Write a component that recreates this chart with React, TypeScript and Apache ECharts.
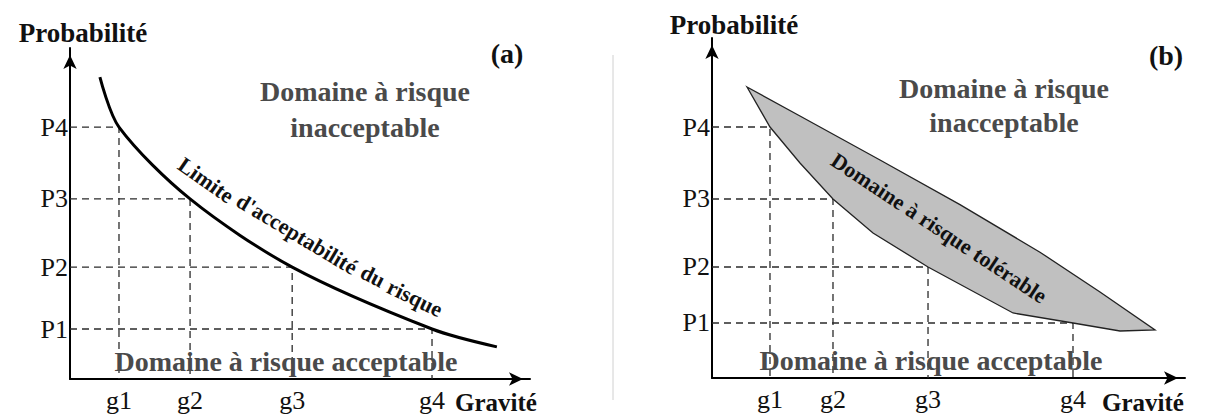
import React, { useEffect, useRef } from 'react';
import * as echarts from 'echarts';

// Tick labels
const gLabels = ['g1', 'g2', 'g3', 'g4'];
const pLabels = ['P1', 'P2', 'P3', 'P4'];

// Panel (a): gravity / probability levels (axis units 0..100)
const aGravity = [10.65, 26.1, 48.3, 78.7];
const aProb = [15.1, 33.8, 54.4, 76.1];
// acceptability limit curve
const aCurveX = [6.5, 10.65, 26.1, 48.3, 78.7, 92.8];
const aCurveY = [91.2, 76.1, 54.4, 33.8, 15.1, 9.7];

// Panel (b)
const bGravity = [12.26, 25.58, 45.67, 76.32];
const bProb = [16.18, 32.65, 52.65, 73.82];
// tolerable-risk band (polygon, upper edge then lower edge back)
const bBandX = [7.4, 18.6, 35.52, 52.43, 69.34, 82.03, 93.66, 86.26, 76.32, 63.64, 45.67, 34.04, 25.58, 18.6, 12.26];
const bBandY = [85.59, 77.06, 64.12, 51.0, 37.0, 25.3, 14.12, 13.82, 16.18, 19.12, 32.65, 42.65, 52.65, 63.24, 73.82];

const FONT = "'Liberation Serif', 'Times New Roman', serif";

function nearest(arr: number[], v: number) {
  let best = 0;
  for (let i = 1; i < arr.length; i++) if (Math.abs(arr[i] - v) < Math.abs(arr[best] - v)) best = i;
  return best;
}

// g1 pairs with P4, g2 with P3, ... (points lying on the limit)
function guideSeries(gs: number[], ps: number[], idx: number) {
  const n = gs.length;
  return gs.map((g, i) => {
    const p = ps[n - 1 - i];
    return {
      type: 'line',
      xAxisIndex: idx,
      yAxisIndex: idx,
      data: [[0, p], [g, p], [g, 0]],
      symbol: 'none',
      silent: true,
      z: 2,
      lineStyle: { color: '#2a2a2a', width: 1.3, type: [7, 5] },
    };
  });
}

function xAxisOf(idx: number, gs: number[]) {
  return {
    type: 'value',
    gridIndex: idx,
    min: 0,
    max: 100,
    splitLine: { show: false },
    axisTick: { show: false },
    axisLine: {
      show: true,
      symbol: ['none', 'arrow'],
      symbolSize: [10, 14],
      symbolOffset: [0, -7],
      lineStyle: { color: '#000', width: 2 },
    },
    axisLabel: {
      customValues: gs,
      formatter: (v: number) => gLabels[nearest(gs, v)],
      fontFamily: FONT,
      fontSize: 26,
      color: '#111',
      margin: 8,
    },
  };
}

function yAxisOf(idx: number, ps: number[]) {
  return {
    type: 'value',
    gridIndex: idx,
    min: 0,
    max: 100,
    splitLine: { show: false },
    axisTick: { show: false },
    axisLine: {
      show: true,
      symbol: ['none', 'arrow'],
      symbolSize: [10, 14],
      symbolOffset: [0, -7],
      lineStyle: { color: '#000', width: 2 },
    },
    axisLabel: {
      customValues: ps,
      formatter: (v: number) => pLabels[nearest(ps, v)],
      fontFamily: FONT,
      fontSize: 26,
      color: '#111',
      margin: 2,
    },
  };
}

function txt(text: string, x: number, y: number, size: number, opts: any = {}) {
  return {
    type: 'text',
    x,
    y,
    rotation: opts.rotation || 0,
    z: 100,
    style: {
      text,
      x: 0,
      y: 0,
      fill: opts.fill || '#111',
      fontFamily: FONT,
      fontSize: size,
      fontWeight: opts.weight || 'bold',
      textAlign: opts.align || 'center',
      align: opts.align || 'center',
      textVerticalAlign: 'middle',
      verticalAlign: 'middle',
    },
  };
}

const deg = (d: number) => (d * Math.PI) / 180;
const GRAY = '#4a4a4a';

export default function App() {
  const ref = useRef<HTMLDivElement>(null);
  useEffect(() => {
    if (!ref.current) return;
    const chart = echarts.init(ref.current, null, { renderer: 'svg' });
    const option: any = {
      animation: false,
      backgroundColor: '#fff',
      grid: [
        { left: 70, top: 48, width: 460, height: 331 },
        { left: 712, top: 38, width: 473, height: 340 },
      ],
      xAxis: [xAxisOf(0, aGravity), xAxisOf(1, bGravity)],
      yAxis: [yAxisOf(0, aProb), yAxisOf(1, bProb)],
      series: [
        ...guideSeries(aGravity, aProb, 0),
        ...guideSeries(bGravity, bProb, 1),
        {
          type: 'line',
          xAxisIndex: 0,
          yAxisIndex: 0,
          data: aCurveX.map((x, i) => [x, aCurveY[i]]),
          symbol: 'none',
          smooth: 0.3,
          z: 5,
          lineStyle: { color: '#000', width: 3 },
        },
        {
          type: 'custom',
          xAxisIndex: 1,
          yAxisIndex: 1,
          z: 5,
          data: [[0, 0]],
          renderItem: (_p: any, api: any) => ({
            type: 'polygon',
            shape: { points: bBandX.map((x, i) => api.coord([x, bBandY[i]])) },
            style: { fill: '#c0c0c0', stroke: '#222', lineWidth: 1.3 },
          }),
        },
      ],
      graphic: [
        { type: 'line', shape: { x1: 613, y1: 55, x2: 613, y2: 400 }, style: { stroke: '#d0d0d0', lineWidth: 1 } },
        txt('Probabilité', 83, 33, 27),
        txt('Probabilité', 734, 25, 27),
        txt('(a)', 507, 53, 28),
        txt('(b)', 1166, 55, 28),
        txt('Gravité', 455, 402, 25, { align: 'left' }),
        txt('Gravité', 1102, 402, 25, { align: 'left' }),
        txt('Domaine à risque', 365, 91, 28, { fill: GRAY }),
        txt('inacceptable', 365, 127, 28, { fill: GRAY }),
        txt('Domaine à risque', 1004, 88, 28, { fill: GRAY }),
        txt('inacceptable', 1004, 122, 28, { fill: GRAY }),
        txt('Domaine à risque acceptable', 286, 361, 28, { fill: GRAY }),
        txt('Domaine à risque acceptable', 931, 360, 28, { fill: GRAY }),
        txt('Limite', 206, 180, 22, { rotation: deg(-35) }),
        txt("d'acceptabilité", 297, 234, 22, { rotation: deg(-31) }),
        txt('du', 373, 276, 22, { rotation: deg(-28) }),
        txt('risque', 415, 298, 22, { rotation: deg(-26) }),
        txt('Domaine à risque tolérable', 939, 228, 22, { rotation: deg(-33.5) }),
      ],
    };
    chart.setOption(option);
    return () => chart.dispose();
  }, []);
  return <div ref={ref} style={{ position: 'fixed', left: 0, top: 0, width: 1210, height: 416 }} />;
}
